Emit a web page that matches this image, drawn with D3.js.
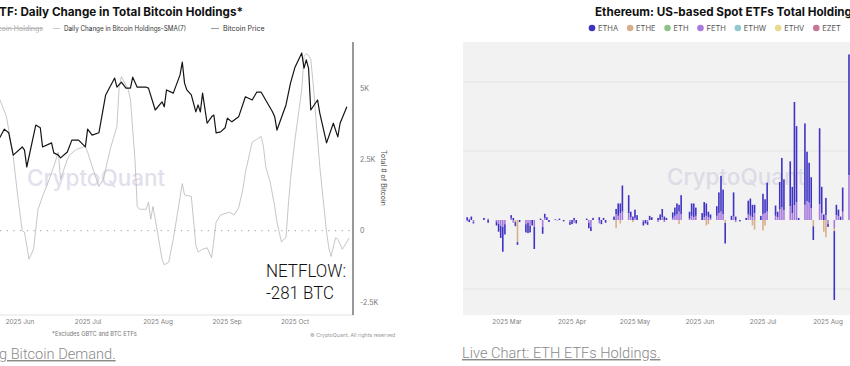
<!DOCTYPE html>
<meta charset="utf-8">
<script src="https://cdn.jsdelivr.net/npm/d3@7"></script>
<style>
  body { margin: 0; background: #fff; }
  svg { display: block; font-family: Inter, "Liberation Sans", sans-serif; }
</style>
<div id="chart"></div>
<script>

// ---------- left chart data (BTC ETFs) ----------
var priceDates = ["2025-05-23","2025-05-25","2025-05-27","2025-05-29","2025-06-02","2025-06-03","2025-06-04","2025-06-08","2025-06-10","2025-06-11",
  "2025-06-15","2025-06-16","2025-06-18","2025-06-19","2025-06-22","2025-06-24","2025-06-27","2025-06-30","2025-07-01","2025-07-03",
  "2025-07-06","2025-07-09","2025-07-13","2025-07-14","2025-07-16","2025-07-18","2025-07-20","2025-07-21","2025-07-23","2025-07-27",
  "2025-07-28","2025-07-31","2025-08-03","2025-08-04","2025-08-05","2025-08-08","2025-08-11","2025-08-12","2025-08-13","2025-08-14",
  "2025-08-16","2025-08-18","2025-08-19","2025-08-20","2025-08-21","2025-08-23","2025-08-25","2025-08-26","2025-08-27","2025-08-29",
  "2025-08-31","2025-09-01","2025-09-03","2025-09-06","2025-09-09","2025-09-12","2025-09-14","2025-09-16","2025-09-21","2025-09-22",
  "2025-09-23","2025-09-27","2025-09-29","2025-10-01","2025-10-04","2025-10-05","2025-10-06","2025-10-07","2025-10-08","2025-10-11",
  "2025-10-12","2025-10-15","2025-10-18","2025-10-20","2025-10-21","2025-10-24"];
var priceVals = [106400,108300,107500,102600,104400,103700,100000,109200,108600,104400,
  105300,103100,102600,102000,103300,105900,105900,104400,108300,107000,
  107500,115800,119500,117500,118600,117300,117300,119700,117500,117500,
  117300,112500,114300,113200,116900,116200,120200,123000,118400,116900,
  115800,112100,113600,112100,116200,109600,111000,111400,107500,107700,
  108600,110700,109900,111000,115400,114700,116400,116400,112100,111000,
  108100,113600,118400,121900,125000,121700,123500,121700,112500,114700,
  111800,105300,109600,106600,109600,113200];

var smaDates = ["2025-05-23","2025-05-26","2025-05-29","2025-05-31","2025-06-02","2025-06-03","2025-06-05","2025-06-07","2025-06-09","2025-06-11",
  "2025-06-14","2025-06-16","2025-06-18","2025-06-19","2025-06-22","2025-06-23","2025-06-26","2025-06-30","2025-07-01","2025-07-03",
  "2025-07-06","2025-07-08","2025-07-11","2025-07-14","2025-07-15","2025-07-16","2025-07-19","2025-07-20","2025-07-22","2025-07-23",
  "2025-07-24","2025-07-27","2025-07-28","2025-07-29","2025-07-30","2025-07-31","2025-08-01","2025-08-03","2025-08-04","2025-08-06",
  "2025-08-08","2025-08-12","2025-08-13","2025-08-16","2025-08-18","2025-08-19","2025-08-21","2025-08-23","2025-08-25","2025-08-27",
  "2025-08-29","2025-09-02","2025-09-04","2025-09-06","2025-09-08","2025-09-09","2025-09-12","2025-09-14","2025-09-16","2025-09-17",
  "2025-09-18","2025-09-20","2025-09-22","2025-09-23","2025-09-25","2025-09-26","2025-09-27","2025-09-28","2025-09-29","2025-10-01",
  "2025-10-04","2025-10-05","2025-10-06","2025-10-07","2025-10-08","2025-10-09","2025-10-12","2025-10-15","2025-10-16","2025-10-17",
  "2025-10-19","2025-10-20","2025-10-22","2025-10-24","2025-10-25"];
var smaVals = [4600,4000,2600,1200,0,-50,-1000,-650,750,1200,
  1800,2250,2750,1800,2500,2650,2850,2950,2750,2250,
  1550,1800,2850,3650,5050,5400,4950,4600,2500,850,
  750,750,1000,400,850,400,-50,-1000,-1200,-1100,
  -300,1650,1250,1200,-500,-750,-650,-600,-950,300,
  550,650,550,800,1500,2050,3100,3200,3300,2950,
  2250,1700,850,300,-400,-300,-250,850,1800,3200,
  4950,6100,6200,6150,6000,5200,2250,-50,-600,-900,
  -250,-300,-650,-400,-250];

var btcMonths = ["2025-06-01","2025-07-01","2025-08-01","2025-09-01","2025-10-01"];
var btcMonthLabels = ["2025 Jun","2025 Jul","2025 Aug","2025 Sep","2025 Oct"];
var holdTicks = [-2500, 0, 2500, 5000];
var holdTickLabels = ["-2.5K", "0", "2.5K", "5K"];

// ---------- right chart data (ETH ETFs, thousand ETH per day) ----------
var etfNames  = ["ETHA","ETHE","ETH","FETH","ETHW","ETHV","EZET"];
var etfColors = ["#3f33c2","#d6b08c","#8fc488","#a77bdd","#8fcad3","#e9da91","#c87596"];

var etfDays = ["2025-02-10","2025-02-11","2025-02-12","2025-02-13","2025-02-18","2025-02-20","2025-02-24","2025-02-25","2025-02-26","2025-02-27",
  "2025-02-28","2025-03-03","2025-03-04","2025-03-05","2025-03-06","2025-03-07","2025-03-10","2025-03-11","2025-03-12","2025-03-13",
  "2025-03-14","2025-03-17","2025-03-18","2025-03-19","2025-03-20","2025-03-21","2025-03-24","2025-03-25","2025-03-26","2025-03-28",
  "2025-03-31","2025-04-01","2025-04-02","2025-04-03","2025-04-08","2025-04-09","2025-04-10","2025-04-11","2025-04-14","2025-04-15",
  "2025-04-16","2025-04-17","2025-04-21","2025-04-22","2025-04-23","2025-04-24","2025-04-25","2025-04-28","2025-04-29","2025-04-30",
  "2025-05-01","2025-05-02","2025-05-05","2025-05-06","2025-05-07","2025-05-08","2025-05-09","2025-05-12","2025-05-13","2025-05-14",
  "2025-05-15","2025-05-16","2025-05-19","2025-05-20","2025-05-21","2025-05-22","2025-05-23","2025-05-27","2025-05-28","2025-05-29",
  "2025-05-30","2025-06-02","2025-06-03","2025-06-04","2025-06-05","2025-06-06","2025-06-09","2025-06-10","2025-06-11","2025-06-12",
  "2025-06-13","2025-06-16","2025-06-17","2025-06-18","2025-06-20","2025-06-23","2025-06-24","2025-06-25","2025-06-26","2025-06-27",
  "2025-06-30","2025-07-01","2025-07-02","2025-07-03","2025-07-07","2025-07-08","2025-07-09","2025-07-10","2025-07-11","2025-07-14",
  "2025-07-15","2025-07-16","2025-07-17","2025-07-18","2025-07-21","2025-07-22","2025-07-23","2025-07-24","2025-07-25","2025-07-28",
  "2025-07-29","2025-07-30","2025-07-31","2025-08-01","2025-08-04","2025-08-05","2025-08-06","2025-08-07","2025-08-08","2025-08-11"];
var etha = [4,-3,5,-2,3,-4,-6,-12,-18,-36,
  -15,5,3,-6,-4,-3,-12,-15,-10,-8,
  -32,2,-10,6,4,-3,1,0,2,-2,
  -4,-6,3,-5,2,-8,-6,3,4,-6,
  3,-4,5,8,18,14,38,26,8,5,
  12,7,-6,-5,-4,6,4,3,8,12,
  5,3,8,12,16,10,28,10,18,20,
  12,10,22,18,8,6,14,30,52,36,
  -30,6,35,5,-2,3,20,25,18,12,
  6,30,20,42,15,8,40,72,45,65,
  38,150,110,3,118,72,58,45,-20,110,
  38,8,25,-5,-100,15,10,5,35,175];
var ethe = [0,0,0,0,0,0,0,0,0,0,
  0,0,0,-3,-32,0,0,0,0,0,
  0,0,0,0,0,0,0,0,0,0,
  0,0,0,0,0,0,0,0,0,0,
  0,0,0,-12,0,-5,0,0,0,-3,
  0,0,0,0,0,0,0,0,0,0,
  0,0,0,0,0,-6,0,0,0,0,
  0,0,0,-8,-6,0,0,0,0,0,
  -4,0,0,0,0,0,0,0,-8,-14,
  0,-15,-8,0,0,0,0,0,0,0,
  0,0,0,0,0,0,0,0,-9,0,
  0,-17,-25,0,-4,0,0,0,0,0];
var feth = [-2,2,0,-3,0,2,-2,-5,-8,-10,
  -6,2,-4,0,0,0,-6,-4,-8,0,
  -10,0,-10,3,0,0,0,-1,0,0,
  -3,0,-4,0,0,-4,-10,0,-5,0,
  0,0,0,8,6,10,12,10,4,0,
  3,0,-2,0,-3,0,0,-3,0,4,
  -3,0,3,6,8,12,8,2,6,4,
  6,0,4,6,4,2,6,10,12,8,
  0,0,5,-3,0,0,8,6,4,10,
  0,8,10,12,6,4,15,18,14,20,
  10,21,26,0,22,27,25,17,0,23,
  10,0,7,-5,-12,7,5,0,12,65];
var ethMonths = ["2025-03-01","2025-04-01","2025-05-01","2025-06-01","2025-07-01","2025-08-01"];
var ethMonthLabels = ["2025 Mar","2025 Apr","2025 May","2025 Jun","2025 Jul","2025 Aug"];
var ethGrid = [-100, 100, 200];

var parse = d3.timeParse("%Y-%m-%d");
var svg = d3.select("#chart").append("svg")
    .attr("width", 850)
    .attr("height", 366);

// month labels under a time scale (each in its own group, pixel-snapped)
function monthLabels(g, scale, dates, labels, y) {
  dates.forEach(function(d, i) {
    g.append("g")
      .attr("transform", "translate(" + Math.round(scale(parse(d))) + "," + y + ")")
      .append("text")
        .attr("text-anchor", "middle")
        .attr("font-size", 6.4)
        .attr("fill", "#808080")
        .text(labels[i]);
  });
}

// ================= LEFT CHART =================
var left = svg.append("g");
var xL = d3.scaleTime().domain([parse("2025-06-01"), parse("2025-10-01")]).range([20, 295]);
var yHold = d3.scaleLinear().domain([-2500, 5000]).range([302, 88]);
var yPrice = d3.scaleLinear().domain([100000, 125000]).range([167, 53]);

left.append("text")
    .attr("x", -8).attr("y", 16)
    .attr("font-size", 11.7).attr("font-weight", 700).attr("fill", "#111")
    .text("ETF: Daily Change in Total Bitcoin Holdings*");

// legend
var lg = left.append("g").attr("font-size", 7).attr("fill", "#333");
lg.append("text").attr("x", 43).attr("y", 31).attr("text-anchor", "end")
    .attr("fill", "#aaa").attr("text-decoration", "line-through")
    .text("Daily Change in Bitcoin Holdings");
lg.append("line").attr("x1", 53).attr("x2", 60).attr("y1", 28.5).attr("y2", 28.5)
    .attr("stroke", "#ccc");
lg.append("text").attr("x", 64).attr("y", 31)
    .attr("textLength", 122).attr("lengthAdjust", "spacingAndGlyphs")
    .text("Daily Change in Bitcoin Holdings-SMA(7)");
lg.append("line").attr("x1", 211).attr("x2", 219).attr("y1", 28.5).attr("y2", 28.5)
    .attr("stroke", "#999");
lg.append("text").attr("x", 223).attr("y", 31).text("Bitcoin Price");

// watermark
left.append("text")
    .attr("x", 27).attr("y", 186)
    .attr("font-size", 22.5).attr("font-weight", 500).attr("fill", "#e2e0ec")
    .text("CryptoQuant");

// zero line
left.append("line")
    .attr("x1", 0).attr("x2", 353)
    .attr("y1", yHold(0)).attr("y2", yHold(0))
    .attr("stroke", "#999").attr("stroke-width", 1)
    .attr("stroke-dasharray", "1.2,5.5");

// bottom base line and axis spine
left.append("line").attr("x1", 0).attr("x2", 353).attr("y1", 315).attr("y2", 315)
    .attr("stroke", "#e2e2e2");
left.append("line").attr("x1", 353).attr("x2", 353).attr("y1", 42).attr("y2", 315)
    .attr("stroke", "#333").attr("stroke-width", 1);

left.append("g").selectAll("text")
  .data(holdTicks)
  .enter().append("text")
    .attr("x", 360)
    .attr("y", function(d) { return yHold(d) + 2.5; })
    .attr("font-size", 7).attr("fill", "#777")
    .text(function(d, i) { return holdTickLabels[i]; });

left.append("text")
    .attr("transform", "translate(381,178) rotate(90)")
    .attr("text-anchor", "middle")
    .attr("font-size", 7).attr("fill", "#555")
    .text("Total # of Bitcoin");

left.append("text").attr("x", 52).attr("y", 336)
    .attr("font-size", 5.8).attr("fill", "#777")
    .text("*Excludes GBTC and BTC ETFs");
left.append("text").attr("x", 310).attr("y", 337)
    .attr("font-size", 5.2).attr("fill", "#999")
    .text("\u00a9 CryptoQuant. All rights reserved");

// SMA line (thin grey)
var smaData = smaDates.map(function(d, i) { return {date: parse(d), v: smaVals[i]}; });
left.append("path")
    .datum(smaData)
    .attr("fill", "none")
    .attr("stroke", "#b8b8b8")
    .attr("stroke-width", 0.8)
    .attr("d", d3.line().x(function(d) { return xL(d.date); }).y(function(d) { return yHold(d.v); }));

// price line (black)
var priceData = priceDates.map(function(d, i) { return {date: parse(d), v: priceVals[i]}; });
left.append("path")
    .datum(priceData)
    .attr("fill", "none")
    .attr("stroke", "#151515")
    .attr("stroke-width", 1.2)
    .attr("stroke-linejoin", "round")
    .attr("d", d3.line().x(function(d) { return xL(d.date); }).y(function(d) { return yPrice(d.v); }));

// netflow annotation
left.append("text").attr("x", 266).attr("y", 277)
    .attr("font-size", 18).attr("font-weight", 300).attr("fill", "#111")
    .attr("font-family", "Roboto, sans-serif")
    .attr("textLength", 80).attr("lengthAdjust", "spacingAndGlyphs")
    .text("NETFLOW:");
left.append("text").attr("x", 266).attr("y", 299)
    .attr("font-size", 18).attr("font-weight", 300).attr("fill", "#111")
    .attr("font-family", "Roboto, sans-serif")
    .attr("textLength", 68).attr("lengthAdjust", "spacingAndGlyphs")
    .text("-281 BTC");

left.append("text").attr("x", -1).attr("y", 359)
    .attr("font-size", 14.6).attr("font-weight", 300).attr("fill", "#8a8a8a")
    .attr("font-family", "Roboto, sans-serif")
    .attr("text-decoration", "underline")
    .text("g Bitcoin Demand.");

// ================= RIGHT CHART =================
var right = svg.append("g");
var xR = d3.scaleTime().domain([parse("2025-03-01"), parse("2025-08-01")]).range([507, 828]);
var yE = d3.scaleLinear().domain([-100, 200]).range([289, 82]);

right.append("text")
    .attr("x", 595).attr("y", 16)
    .attr("font-size", 11.7).attr("font-weight", 700).attr("fill", "#111")
    .text("Ethereum: US-based Spot ETFs Total Holdings");

// legend
var lx = 592;
etfNames.forEach(function(n, i) {
  right.append("circle").attr("cx", lx).attr("cy", 28).attr("r", 3.3).attr("fill", etfColors[i]);
  var t = right.append("text").attr("x", lx + 6).attr("y", 30.5)
      .attr("font-size", 7.5).attr("fill", "#555").text(n);
  lx += 6 + t.node().getComputedTextLength() + 12;
});

right.append("rect")
    .attr("x", 463).attr("y", 42).attr("width", 400).attr("height", 273)
    .attr("fill", "#f2f2f2");

right.selectAll(".grid")
  .data(ethGrid)
  .enter().append("line")
    .attr("x1", 463).attr("x2", 850)
    .attr("y1", function(d) { return yE(d); })
    .attr("y2", function(d) { return yE(d); })
    .attr("stroke", "#e4e4e4").attr("stroke-width", 1);

right.append("text")
    .attr("x", 667).attr("y", 185)
    .attr("font-size", 22.5).attr("font-weight", 500).attr("fill", "#dcdbe6")
    .text("CryptoQuant");

var rows = etfDays.map(function(d, i) {
  return {date: parse(d), ETHA: etha[i], ETHE: ethe[i], FETH: feth[i]};
});
var stack = d3.stack()
    .keys(["ETHA", "ETHE", "FETH"])
    .order(d3.stackOrderReverse)
    .offset(d3.stackOffsetDiverging);
var series = stack(rows);

right.append("g").selectAll("g")
  .data(series)
  .enter().append("g")
    .attr("fill", function(s) { return etfColors[etfNames.indexOf(s.key)]; })
  .selectAll("rect")
  .data(function(s) { return s; })
  .enter().append("rect")
    .attr("x", function(d) { return xR(d.data.date) - 0.8; })
    .attr("width", 1.6)
    .attr("y", function(d) { return yE(Math.max(d[0], d[1])); })
    .attr("height", function(d) { return Math.abs(yE(d[0]) - yE(d[1])); });

right.append("text").attr("x", 462).attr("y", 358)
    .attr("font-size", 14.6).attr("font-weight", 300).attr("fill", "#8a8a8a")
    .attr("font-family", "Roboto, sans-serif")
    .attr("text-decoration", "underline")
    .text("Live Chart: ETH ETFs Holdings.");

// month labels for both charts, drawn last
var labels = svg.append("g");
monthLabels(labels, xL, btcMonths, btcMonthLabels, 324);
monthLabels(labels, xR, ethMonths, ethMonthLabels, 324);

</script>
